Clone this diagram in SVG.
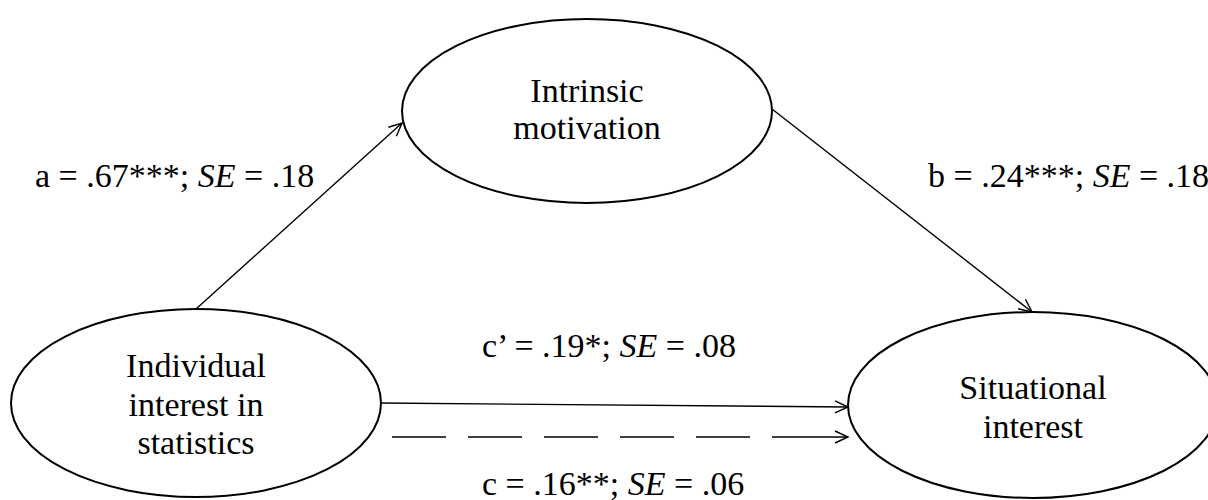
<svg xmlns="http://www.w3.org/2000/svg" width="1208" height="500" viewBox="0 0 1208 500">
<style>
.node ellipse{fill:#fff;stroke:#000;stroke-width:2}
text{font-family:"Liberation Serif","Times New Roman",serif;font-size:34px;fill:#000}
.nt{text-anchor:middle}
.conn{stroke:#000;stroke-width:1.4;fill:none}
</style>
<defs>
<marker id="arr" markerUnits="userSpaceOnUse" markerWidth="16" markerHeight="16" refX="13" refY="6" orient="auto" overflow="visible">
<path d="M0,0 L13,6 L0,12" fill="none" stroke="#000" stroke-width="1.4"/>
</marker>
</defs>
<rect width="1208" height="500" fill="#fff"/>
<g id="connectors">
<line class="conn" x1="196" y1="309" x2="402" y2="123" marker-end="url(#arr)"/>
<line class="conn" x1="772" y1="109" x2="1032" y2="312" marker-end="url(#arr)"/>
<line class="conn" x1="381" y1="403" x2="848" y2="407" marker-end="url(#arr)"/>
<path class="conn" d="M392,437 H446 M468,437 H522 M544,437 H598 M620,437 H674 M696,437 H750 M772,437 H848" marker-end="url(#arr)"/>
</g>
<g id="node-intrinsic" class="node">
<ellipse cx="587" cy="111" rx="185" ry="92"/>
<text class="nt" x="587" y="102">Intrinsic</text>
<text class="nt" x="587" y="139">motivation</text>
</g>
<g id="node-individual" class="node">
<ellipse cx="196" cy="403" rx="185" ry="94"/>
<text class="nt" x="196" y="377">Individual</text>
<text class="nt" x="196" y="416">interest in</text>
<text class="nt" x="196" y="454">statistics</text>
</g>
<g id="node-situational" class="node">
<ellipse cx="1033" cy="405" rx="185" ry="93"/>
<text class="nt" x="1033" y="399">Situational</text>
<text class="nt" x="1033" y="438">interest</text>
</g>
<g id="labels">
<text x="35" y="187">a = .67***; <tspan font-style="italic">SE</tspan> = .18</text>
<text x="928" y="187">b = .24***; <tspan font-style="italic">SE</tspan> = .18</text>
<text x="482" y="357">c’ = .19*; <tspan font-style="italic">SE</tspan> = .08</text>
<text x="482" y="495">c = .16**; <tspan font-style="italic">SE</tspan> = .06</text>
</g>
</svg>
